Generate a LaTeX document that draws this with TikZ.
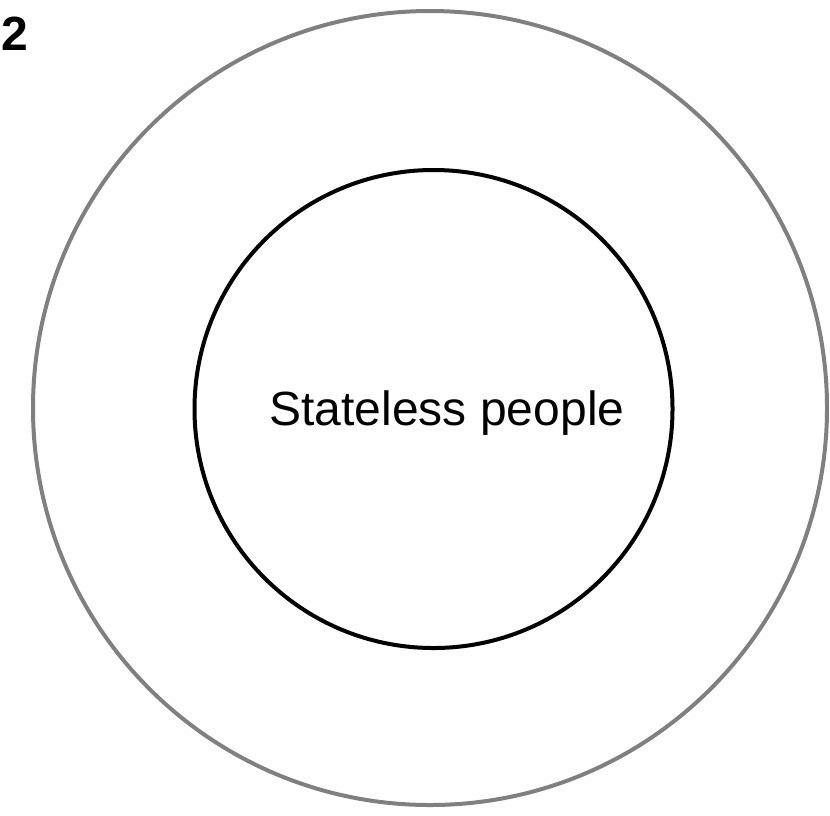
\documentclass[tikz,border=0pt]{standalone}
\usepackage{fontspec}
\setmainfont{Liberation Sans}
\usepackage{tikz}
\usepackage{xcolor}
\usetikzlibrary{positioning}
\definecolor{RingGray}{HTML}{808080}
\definecolor{RingBlack}{HTML}{000000}
\tikzset{
    % Ring styles
    outerring/.style={
        circle,
        draw=RingGray,
        line width=3pt,
        inner sep=0pt,
        minimum size=595.5pt
    },
    innerring/.style={
        circle,
        draw=RingBlack,
        line width=3pt,
        inner sep=0pt,
        minimum size=358.5pt
    },
    % Text styles
    ringlabel/.style={
        font=\fontsize{36}{43}\selectfont
    },
    panellabel/.style={
        font=\fontsize{36}{43}\selectfont\bfseries
    }
}
\begin{document}
\begin{tikzpicture}[x=0.75pt, y=-0.75pt]
            % Frame
            \useasboundingbox (0,0) rectangle (830,815);

            % Rings
            \node[outerring] (outer) at (430,408) {};
            \node[innerring] (inner) at (433.5,409) {};

            % Labels
            \node[ringlabel, anchor=base] (stateless) at (447,425) {Stateless people};
            \node[panellabel, anchor=base] (panel) at (15,50) {2};
\end{tikzpicture}
\end{document}
